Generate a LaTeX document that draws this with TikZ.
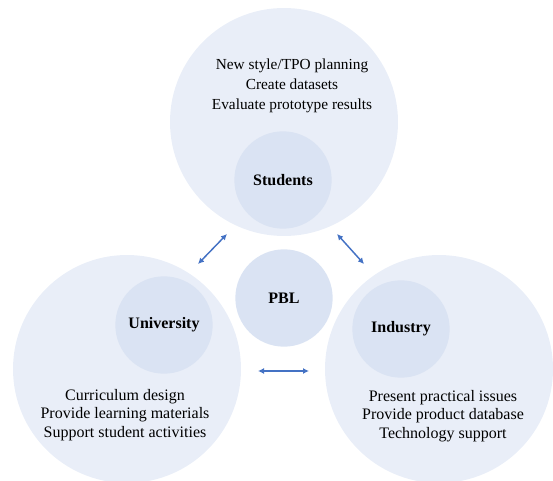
\documentclass[tikz,border=0pt]{standalone}
\usepackage{fontspec}
\setmainfont{Liberation Serif}
\usetikzlibrary{arrows.meta}
\definecolor{outerfill}{HTML}{E9EEF8}
\definecolor{innerfill}{HTML}{DAE3F3}
\definecolor{linkblue}{HTML}{4472C4}
\begin{document}
\begin{tikzpicture}[x=0.75pt,y=0.75pt,
    outer/.style={circle,fill=outerfill,minimum size=171pt,inner sep=0pt},
    inner/.style={circle,fill=innerfill,minimum size=73pt,inner sep=0pt,font=\fontsize{12}{14}\selectfont\bfseries},
    tasks/.style={align=center,font=\fontsize{12}{14}\selectfont,inner sep=0pt},
    link/.style={linkblue,line width=1.1pt,{Latex[length=4.5pt,width=4.5pt]}-{Latex[length=4.5pt,width=4.5pt]}}]
  \useasboundingbox (0,0) rectangle (553,-481);
  % big circles
  \node[outer] (stuouter) at (284,-122) {};
  \node[outer] (uniouter) at (127,-369) {};
  \node[outer] (indouter) at (439,-369) {};
  % small circles
  \node[inner] (students) at (283,-180) {Students};
  \node[inner] (pbl) at (284,-298) {PBL};
  \node[inner] (university) at (164,-325) {University};
  \node[inner] (industry) at (401,-329) {Industry};
  % tasks
  \node[tasks,font=\fontsize{11.5}{15}\selectfont] (stutasks) at (292,-86)
    {New style/TPO planning\\Create datasets\\Evaluate prototype results};
  \node[tasks] (unitasks) at (125,-415)
    {Curriculum design\\Provide learning materials\\Support student activities};
  \node[tasks] (indtasks) at (443,-416)
    {Present practical issues\\Provide product database\\Technology support};
  % arrows
  \coordinate (a1) at (198,-264);
  \coordinate (a2) at (227,-234);
  \coordinate (b1) at (337,-234);
  \coordinate (b2) at (364,-264);
  \coordinate (c1) at (258,-371);
  \coordinate (c2) at (309,-371);
  \draw[link] (a1) -- (a2);
  \draw[link] (b1) -- (b2);
  \draw[link] (c1) -- (c2);
\end{tikzpicture}
\end{document}
